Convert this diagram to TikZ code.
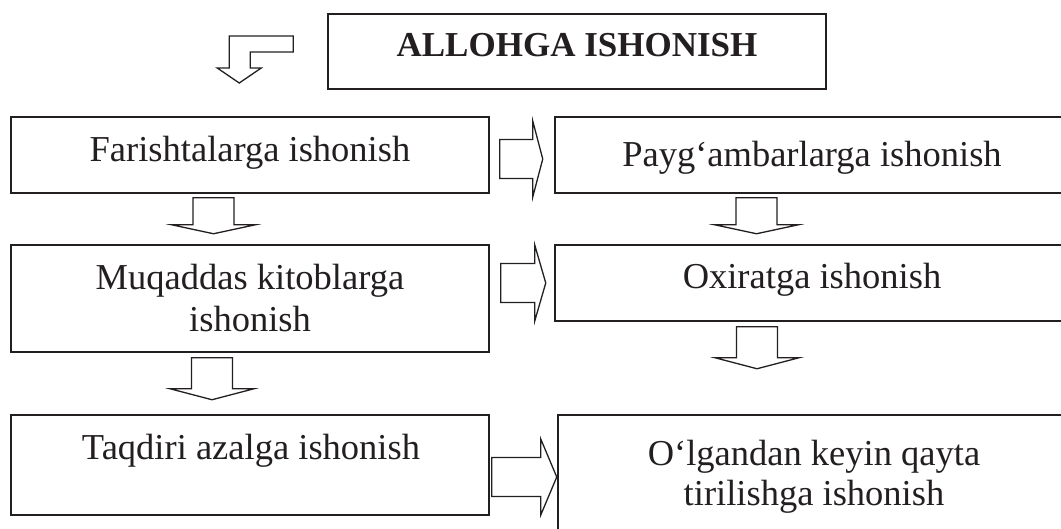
\documentclass[tikz,border=0pt]{standalone}
\usepackage{fontspec}
\setmainfont{Liberation Serif}
\usetikzlibrary{calc}
\definecolor{ink}{HTML}{231F20}
\tikzset{
  box/.style={draw=ink, line width=1.5pt, inner sep=0pt, fill=none},
  txt/.style={inner sep=0pt, text=ink, font=\fontsize{36.5}{42}\selectfont, anchor=base},
  ttl/.style={inner sep=0pt, text=ink, font=\fontsize{35}{42}\selectfont\bfseries, anchor=base},
  blk/.style={draw=ink, line width=1.3pt, line join=miter, fill=white},
  pics/downblk/.style 2 args={code={
    \draw[blk] (-20.5,0) -- (-20.5,-#1+#2) -- (-42,-#1+#2) -- (0,-#1) -- (42,-#1+#2) -- (20.5,-#1+#2) -- (20.5,0) -- cycle;}},
  pics/rightblk/.style 2 args={code={
    \draw[blk] (0,19.5) -- (#1-#2,19.5) -- (#1-#2,38) -- (#1,0) -- (#1-#2,-38) -- (#1-#2,-19.5) -- (0,-19.5) -- cycle;}}
}
\begin{document}
\begin{tikzpicture}[x=1pt,y=1pt]
\path[use as bounding box] (0,0) rectangle (1061,-529);
\begin{scope}
\clip (0,0) rectangle (1061,-529);
% boxes
\node[box, minimum width=498pt, minimum height=75pt] (ttlbox) at (577,-51.5) {};
\node[box, minimum width=478pt, minimum height=76pt] (far) at (250,-155) {};
\node[box, minimum width=478pt, minimum height=107pt] (muq) at (250,-298.5) {};
\node[box, minimum width=478pt, minimum height=100pt] (taq) at (250,-465) {};
\node[box, minimum width=514pt, minimum height=76pt] (pay) at (812,-155) {};
\node[box, minimum width=514pt, minimum height=76pt] (oxi) at (812,-283) {};
\node[box, minimum width=514pt, minimum height=190pt] (olg) at (815,-510) {};
% texts
\node[ttl] (t0) at (577,-57) {ALLOHGA ISHONISH};
\node[txt] (t1) at (250,-162) {Farishtalarga ishonish};
\node[txt] (t2) at (812,-167) {Payg‘ambarlarga ishonish};
\node[txt] (t3a) at (250,-290) {Muqaddas kitoblarga};
\node[txt] (t3b) at (250,-332) {ishonish};
\node[txt] (t4) at (812,-289) {Oxiratga ishonish};
\node[txt] (t5) at (251,-459) {Taqdiri azalga ishonish};
\node[txt] (t6a) at (814,-465) {O‘lgandan keyin qayta};
\node[txt] (t6b) at (814,-505) {tirilishga ishonish};
% bent arrow
\coordinate (bend) at ([xshift=-34pt,yshift=7.5pt]ttlbox.west);
\draw[blk] (bend) ++(-64,-24) -- ++(0,32) -- ++(64,0) -- ++(0,-16) -- ++(-43,0) -- ++(0,-16) -- ++(11,0) -- ++(-22,-15) -- ++(-22,15) -- cycle;
% down arrows
\pic at ([xshift=-36.5pt,yshift=-4pt]far.south) {downblk={36}{9}};
\pic at ([xshift=-38pt,yshift=-5pt]muq.south) {downblk={42}{11}};
\pic at ([xshift=-55.5pt,yshift=-4pt]pay.south) {downblk={36}{9}};
\pic at ([xshift=-55pt,yshift=-5pt]oxi.south) {downblk={42}{11}};
% right arrows
\pic at ([xshift=10pt,yshift=-4pt]far.east) {rightblk={43}{10}};
\pic at ([xshift=11pt,yshift=15.5pt]muq.east) {rightblk={45}{11}};
\pic at ([xshift=2pt,yshift=-12pt]taq.east) {rightblk={65}{16}};
\end{scope}
\end{tikzpicture}
\end{document}
